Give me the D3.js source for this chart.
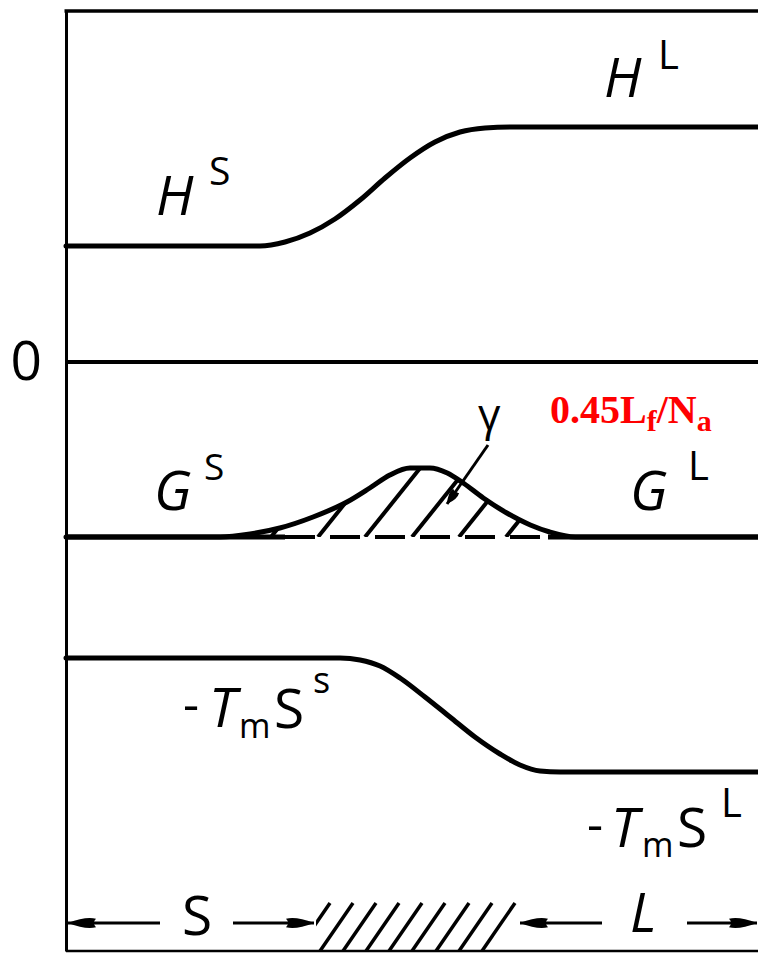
<!DOCTYPE html>
<html>
<head>
<meta charset="utf-8">
<script src="https://cdn.jsdelivr.net/npm/d3@7/dist/d3.min.js"></script>
<style>
  html, body { margin: 0; padding: 0; background: #fff; }
  svg { display: block; }
  .lab { font-family: "Open Sans", "Liberation Sans", sans-serif; font-weight: 400; fill: #000; }
</style>
</head>
<body>
<svg id="chart" width="758" height="953"></svg>
<script>
// Position across the solid–liquid interface (0 = solid side, 100 = liquid side)
const hPos   = [0, 28.03, 31.65, 35.26, 38.87, 42.49, 46.10, 49.71, 53.32, 56.94, 60.55, 64.16, 100];
const hVal   = [5.8, 5.8, 6.0, 6.45, 7.15, 8.1, 9.2, 10.2, 11.0, 11.5, 11.7, 11.75, 11.75];

const gPos   = [0, 22.3, 26.6, 30.9, 35.7, 40.6, 43.9, 46.8, 49.7, 52.6, 55.1, 57.4, 60.3, 63.7, 67.1, 69.9, 73.6, 100];
const gVal   = [-8.75, -8.75, -8.6, -8.3, -7.75, -7.0, -6.3, -5.65, -5.3, -5.3, -5.55, -6.05, -6.8, -7.55, -8.15, -8.5, -8.75, -8.75];

const tsPos  = [0, 39.6, 42.49, 45.38, 48.27, 51.88, 55.49, 59.10, 62.72, 65.61, 68.50, 71.39, 100];
const tsVal  = [-14.8, -14.8, -14.9, -15.2, -15.8, -16.75, -17.75, -18.75, -19.6, -20.15, -20.45, -20.5, -20.5];

const yTicks = [0];
const yTickLabels = ["0"];

const svg = d3.select("#chart");

const x = d3.scaleLinear().domain([0, 100]).range([66, 758]);
const y = d3.scaleLinear().domain([-29.45, 17.55]).range([951, 11]);

const line = d3.line().x(d => x(d[0])).y(d => y(d[1])).curve(d3.curveMonotoneX);
const zip = (a, b) => a.map((v, i) => [v, b[i]]);

const defs = svg.append("defs");

// Arrowheads
function arrowHead(id, len, half) {
  defs.append("marker")
    .attr("id", id)
    .attr("viewBox", `0 ${-half} ${len} ${2 * half}`)
    .attr("refX", len).attr("refY", 0)
    .attr("markerWidth", len).attr("markerHeight", 2 * half)
    .attr("markerUnits", "userSpaceOnUse")
    .attr("orient", "auto")
    .append("path")
    .attr("d", `M0,${-half * 0.6} Q${len * 0.35},${-half} ${len},0 Q${len * 0.35},${half} 0,${half * 0.6} Q${len * 0.15},0 0,${-half * 0.6}Z`)
    .attr("fill", "#000");
}
arrowHead("headBig", 28, 7);
arrowHead("headSmall", 16, 6);

// Frame: left axis with the zero tick label
const yAxis = d3.axisLeft(y).tickValues(yTicks).tickFormat((d, i) => yTickLabels[i])
  .tickSize(0).tickSizeOuter(0).tickPadding(24);
const gAxis = svg.append("g").attr("transform", `translate(${x(0)},0)`).call(yAxis);
gAxis.select(".domain").attr("stroke", "#000").attr("stroke-width", 3);
gAxis.selectAll("text")
  .attr("font-family", "\"Open Sans\", \"Liberation Sans\", sans-serif")
  .attr("font-weight", 400)
  .attr("font-size", 55).attr("fill", "#000");

// Top and bottom borders
svg.append("line").attr("x1", x(0) - 1.5).attr("x2", x(100)).attr("y1", y.range()[1]).attr("y2", y.range()[1])
  .attr("stroke", "#000").attr("stroke-width", 3.5);
svg.append("line").attr("x1", x(0)).attr("x2", x(100)).attr("y1", y.range()[0]).attr("y2", y.range()[0])
  .attr("stroke", "#000").attr("stroke-width", 2.5);

// Zero line
svg.append("line").attr("x1", x(0)).attr("x2", x(100)).attr("y1", y(0)).attr("y2", y(0))
  .attr("stroke", "#000").attr("stroke-width", 4);

// Hatched excess free-energy area under the G curve
const gBase = gVal[0];
const areaG = d3.area().x(d => x(d[0])).y0(y(gBase)).y1(d => y(d[1])).curve(d3.curveMonotoneX);
defs.append("clipPath").attr("id", "gClip")
  .append("path").attr("d", areaG(zip(gPos, gVal)));

const hatchG = [271, 318, 365, 412, 459, 506, 553];
svg.append("g").attr("clip-path", "url(#gClip)")
  .selectAll("line").data(hatchG).join("line")
  .attr("x1", d => d).attr("y1", y(gBase))
  .attr("x2", d => d + 80).attr("y2", y(gBase) - 100)
  .attr("stroke", "#000").attr("stroke-width", 4);

// G baseline: solid outside the hatched zone, broken inside it
const gx0 = 285, gx1 = 548;
svg.append("line").attr("x1", x(0)).attr("x2", gx0).attr("y1", y(gBase)).attr("y2", y(gBase))
  .attr("stroke", "#000").attr("stroke-width", 5);
svg.append("line").attr("x1", gx0).attr("x2", gx1).attr("y1", y(gBase)).attr("y2", y(gBase))
  .attr("stroke", "#000").attr("stroke-width", 4).attr("stroke-dasharray", "30,15");
svg.append("line").attr("x1", gx1).attr("x2", x(100)).attr("y1", y(gBase)).attr("y2", y(gBase))
  .attr("stroke", "#000").attr("stroke-width", 5);

// Curves
[[hPos, hVal], [gPos, gVal], [tsPos, tsVal]].forEach(([p, v]) => {
  svg.append("path").attr("d", line(zip(p, v)))
    .attr("fill", "none").attr("stroke", "#000").attr("stroke-width", 5)
    .attr("stroke-linecap", "round");
});

// Labels: one text element per label, each piece placed as a tspan
function label(parts) {
  const t = svg.append("text").attr("class", "lab");
  parts.forEach(p => {
    t.append("tspan")
      .attr("x", p.x).attr("y", p.y).attr("font-size", p.s)
      .attr("font-style", p.it ? "italic" : "normal")
      .text(p.t);
  });
}
label([{ t: "H", x: 156, y: 215, s: 55, it: true }, { t: "S", x: 209, y: 185, s: 39 }]);
label([{ t: "H", x: 604, y: 97, s: 55, it: true }, { t: "L", x: 658, y: 69, s: 40 }]);
label([{ t: "G", x: 154, y: 510, s: 55, it: true }, { t: "S", x: 204, y: 480, s: 37 }]);
label([{ t: "G", x: 630, y: 510, s: 55, it: true }, { t: "L", x: 688, y: 480, s: 40 }]);
label([{ t: "γ", x: 478, y: 430, s: 44 }]);
label([
  { t: "-", x: 183, y: 722, s: 50 },
  { t: "T", x: 209, y: 727, s: 55, it: true },
  { t: "m", x: 239, y: 738, s: 34 },
  { t: "S", x: 274, y: 728, s: 55 },
  { t: "s", x: 313, y: 693, s: 36 }
]);
label([
  { t: "-", x: 587, y: 842, s: 50 },
  { t: "T", x: 611, y: 847, s: 55, it: true },
  { t: "m", x: 642, y: 857, s: 34 },
  { t: "S", x: 677, y: 847, s: 55 },
  { t: "L", x: 721, y: 817, s: 40 }
]);
label([{ t: "S", x: 182, y: 935, s: 55 }]);
label([{ t: "L", x: 630, y: 932, s: 55, it: true }]);

// Arrow pointing at the interfacial energy area
svg.append("line").attr("x1", 488).attr("y1", 445).attr("x2", 447).attr("y2", 504)
  .attr("stroke", "#000").attr("stroke-width", 3).attr("marker-end", "url(#headSmall)");

// Region arrows along the bottom
const arrowY = 923;
[[160, 68], [233, 314], [602, 520], [687, 757]].forEach(([a, b]) => {
  svg.append("line").attr("x1", a).attr("y1", arrowY).attr("x2", b).attr("y2", arrowY)
    .attr("stroke", "#000").attr("stroke-width", 3).attr("marker-end", "url(#headBig)");
});

// Hatched interface zone along the bottom
defs.append("clipPath").attr("id", "bClip")
  .append("rect").attr("x", 316).attr("y", 900).attr("width", 206).attr("height", 52);
const hatchB = [330, 353, 376, 399, 422, 445, 469, 492, 515];
svg.append("g").attr("clip-path", "url(#bClip)")
  .selectAll("line").data(hatchB).join("line")
  .attr("x1", d => d).attr("y1", 903).attr("x2", d => d - 33).attr("y2", 951)
  .attr("stroke", "#000").attr("stroke-width", 3.5);

// Annotation in red
const red = svg.append("text").attr("x", 550).attr("y", 423)
  .attr("font-family", "\"Liberation Serif\", \"Times New Roman\", serif")
  .attr("font-weight", "bold").attr("font-size", 40).attr("fill", "#ff0000");
red.append("tspan").text("0.45L");
red.append("tspan").attr("font-size", 30).attr("dy", 8).text("f");
red.append("tspan").attr("dy", -8).text("/N");
red.append("tspan").attr("font-size", 30).attr("dy", 8).text("a");
</script>
</body>
</html>
